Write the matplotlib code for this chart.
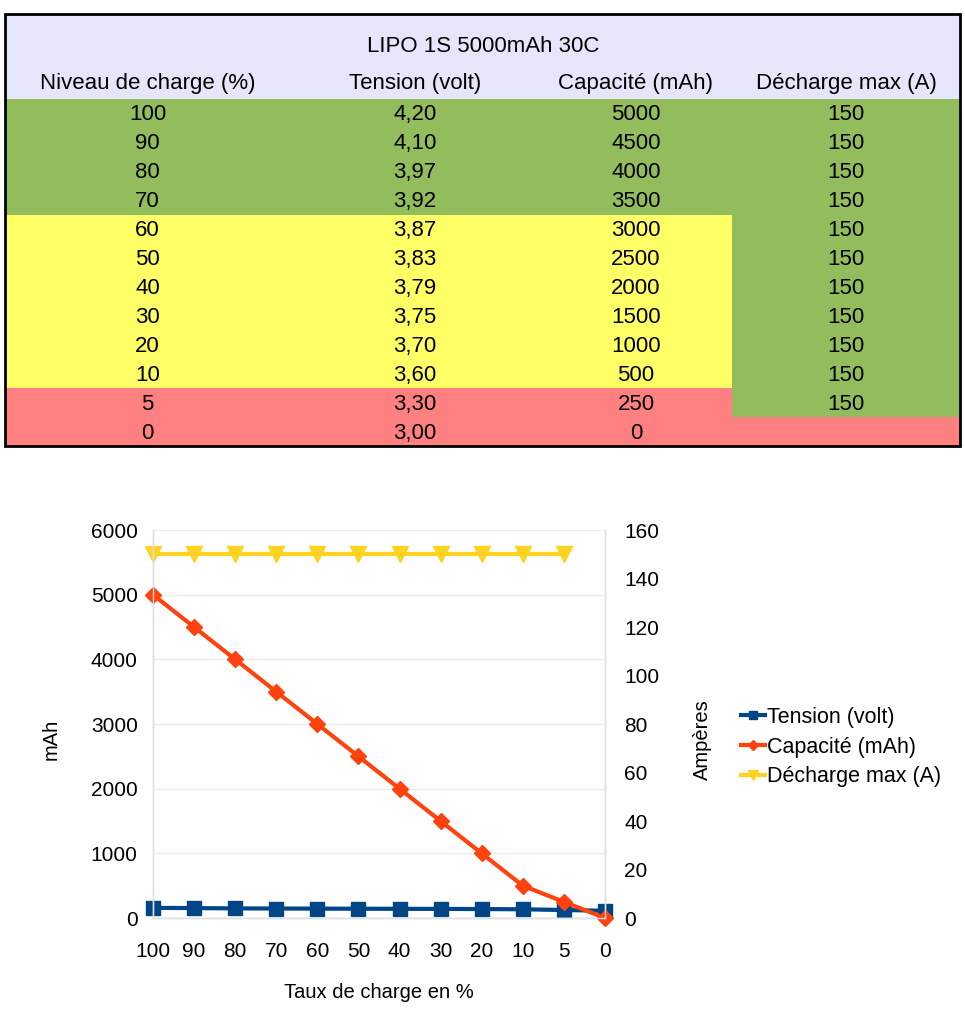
import matplotlib
matplotlib.use("Agg")
import matplotlib.pyplot as plt
from matplotlib.patches import Rectangle

plt.rcParams["font.family"] = ["Liberation Sans", "DejaVu Sans"]

# Données du tableau LIPO 1S 5000mAh 30C
titre = "LIPO 1S 5000mAh 30C"
entetes = ["Niveau de charge (%)", "Tension (volt)", "Capacité (mAh)", "Décharge max (A)"]
niveau = [100, 90, 80, 70, 60, 50, 40, 30, 20, 10, 5, 0]
tension = [4.20, 4.10, 3.97, 3.92, 3.87, 3.83, 3.79, 3.75, 3.70, 3.60, 3.30, 3.00]
capacite = [5000, 4500, 4000, 3500, 3000, 2500, 2000, 1500, 1000, 500, 250, 0]
decharge = [150, 150, 150, 150, 150, 150, 150, 150, 150, 150, 150, None]
zones = ["vert"] * 4 + ["jaune"] * 6 + ["rouge"] * 2

couleurs_zone = {"vert": "#93bc5d", "jaune": "#ffff66", "rouge": "#ff8080"}
bleu, orange, jaune = "#004586", "#ff420e", "#ffd320"

fig = plt.figure(figsize=(9.65, 10.24), dpi=100)

# ---- tableau (coordonnées en pixels) ----
ax_t = fig.add_axes([0, 0, 1, 1])
ax_t.set_xlim(0, 965)
ax_t.set_ylim(1024, 0)
ax_t.axis("off")

x_bords = [5, 290, 540, 732, 960]
haut, haut_donnees, bas = 14, 99, 446
h_ligne = (bas - haut_donnees) / len(niveau)

ax_t.add_patch(Rectangle((x_bords[0], haut), x_bords[-1] - x_bords[0], haut_donnees - haut,
                         facecolor="#e6e6fa", edgecolor="none"))
ax_t.text(483, 46, titre, ha="center", va="center", fontsize=16)
for j, e in enumerate(entetes):
    ax_t.text((x_bords[j] + x_bords[j + 1]) / 2, 84, e, ha="center", va="center", fontsize=16)

for i in range(len(niveau)):
    y0 = haut_donnees + i * h_ligne
    c = couleurs_zone[zones[i]]
    ax_t.add_patch(Rectangle((x_bords[0], y0), x_bords[3] - x_bords[0], h_ligne + 0.5,
                             facecolor=c, edgecolor="none"))
    c4 = couleurs_zone["vert"] if decharge[i] is not None else couleurs_zone["rouge"]
    ax_t.add_patch(Rectangle((x_bords[3], y0), x_bords[4] - x_bords[3], h_ligne + 0.5,
                             facecolor=c4, edgecolor="none"))
    valeurs = [str(niveau[i]), f"{tension[i]:.2f}".replace(".", ","), str(capacite[i]),
               "" if decharge[i] is None else str(decharge[i])]
    for j, v in enumerate(valeurs):
        ax_t.text((x_bords[j] + x_bords[j + 1]) / 2, y0 + h_ligne / 2 + 1.5, v,
                  ha="center", va="center", fontsize=16)

ax_t.add_patch(Rectangle((x_bords[0], haut), x_bords[-1] - x_bords[0], bas - haut,
                         facecolor="none", edgecolor="black", linewidth=2))

# ---- graphique ----
ax1 = fig.add_axes([0.1585, 0.1035, 0.4684, 0.3789])
ax2 = ax1.twinx()
x = list(range(len(niveau)))

l1, = ax2.plot(x, tension, color=bleu, marker="s", markersize=10.5, linewidth=3,
               clip_on=False, label="Tension (volt)")
l2, = ax1.plot(x, capacite, color=orange, marker="D", markersize=8.5, linewidth=3,
               clip_on=False, label="Capacité (mAh)")
xd = [xi for xi, d in zip(x, decharge) if d is not None]
yd = [d for d in decharge if d is not None]
l3, = ax2.plot(xd, yd, color=jaune, marker="v", markersize=12, linewidth=3,
               clip_on=False, label="Décharge max (A)")

ax1.set_zorder(ax2.get_zorder() + 1)
ax1.patch.set_visible(False)
ax2.set_zorder(0)

ax1.set_xlim(0, len(niveau) - 1)
ax1.set_ylim(0, 6000)
ax2.set_ylim(0, 160)
ax1.set_yticks(range(0, 6001, 1000))
ax2.set_yticks(range(0, 161, 20))
ax1.set_xticks(x)
ax1.set_xticklabels([str(n) for n in niveau])

ax1.yaxis.grid(True, color="#ececec", linewidth=1)
ax1.set_axisbelow(True)
for ax in (ax1, ax2):
    for s in ax.spines.values():
        s.set_color("#e0e0e0")
        s.set_linewidth(1)
    ax.spines["top"].set_visible(False)
    ax.tick_params(labelsize=15, length=0)
ax1.tick_params(axis="y", pad=11)
ax1.tick_params(axis="x", pad=17)
ax2.tick_params(axis="y", pad=14)

ax1.set_xlabel("Taux de charge en %", fontsize=14.5, labelpad=16)
ax1.set_ylabel("mAh", fontsize=14.5)
ax2.set_ylabel("Ampères", fontsize=14.5)
ax1.yaxis.set_label_coords(-0.205, 0.46)
ax2.yaxis.set_label_coords(1.195, 0.46)

fig.legend(handles=[l1, l2, l3], loc="center left", bbox_to_anchor=(0.748, 0.2705),
           frameon=False, fontsize=15.5, handlelength=1.1, handletextpad=0.1,
           labelspacing=0.4, markerscale=0.6)

fig.savefig("out.png", dpi=100)
